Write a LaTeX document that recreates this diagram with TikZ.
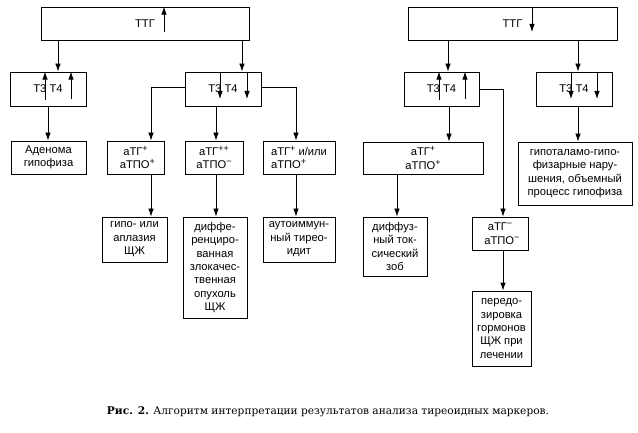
\documentclass[tikz,border=0pt]{standalone}
\usepackage{fontspec}
\setmainfont{Liberation Sans}
\newfontfamily\capfont{DejaVu Serif}
\usetikzlibrary{arrows.meta}
\newcommand{\spx}[1]{\raisebox{0.33em}{\fontsize{9}{9}\selectfont #1}}
\begin{document}
\begin{tikzpicture}[x=1pt,y=-1pt,
  bx/.style={draw, line width=0.8pt, inner sep=0pt, align=center,
    font=\fontsize{11.2}{13.4}\selectfont},
  arr/.style={line width=0.8pt, -{Latex[length=8pt,width=5.5pt]}},
  ln/.style={line width=0.8pt}]
\useasboundingbox (0,0) rectangle (638,433);
% top row
\node[bx, minimum width=208pt, minimum height=33pt] (ttgL) at (145,23.5) {ТТГ};
\node[bx, minimum width=209pt, minimum height=33pt] (ttgR) at (512.5,23.5) {ТТГ};
% T3 T4 row
\node[bx, minimum width=76pt, minimum height=34pt] (t1) at (48,89) {Т3 Т4};
\node[bx, minimum width=76pt, minimum height=34pt] (t2) at (223,89) {Т3 Т4};
\node[bx, minimum width=75pt, minimum height=34pt] (t3) at (441.5,89) {Т3 Т4};
\node[bx, minimum width=76pt, minimum height=34pt] (t4) at (574,89) {Т3 Т4};
% second row
\node[bx, minimum width=75pt, minimum height=33pt] (aden) at (48.5,157.5) {Аденома\\гипофиза};
\node[bx, minimum width=57pt, minimum height=33pt] (b1) at (135.5,157.5) {аТГ\spx{+}\\\,\,аТПО\spx{+}};
\node[bx, minimum width=58pt, minimum height=33pt] (b2) at (214,157.5) {аТГ\spx{++}\\аТПО\spx{−}};
\node[bx, minimum width=72pt, minimum height=33pt, align=left] (b3) at (299,157.5) {аТГ\spx{+} и/или\\аТПО\spx{+}};
\node[bx, minimum width=120pt, minimum height=32pt] (d1) at (423,158) {аТГ\spx{+}\\аТПО\spx{+}};
\node[bx, minimum width=114pt, minimum height=63pt] (d2) at (575,173.5) {гипоталамо-гипо-\\физарные нару-\\шения, объемный\\процесс гипофиза};
% third row
\node[bx, minimum width=65pt, minimum height=45pt] (c1) at (134.5,239.5) {гипо- или\\аплазия\\ЩЖ};
\node[bx, minimum width=64pt, minimum height=101pt] (c2) at (215,267.5) {диффе-\\ренциро-\\ванная\\злокачес-\\твенная\\опухоль\\ЩЖ};
\node[bx, minimum width=72pt, minimum height=45pt] (c3) at (299,239.5) {аутоиммун-\\ный тирео-\\идит};
\node[bx, minimum width=64pt, minimum height=59pt] (e1) at (395,246.5) {диффуз-\\ный ток-\\сический\\зоб};
\node[bx, minimum width=56pt, minimum height=33pt] (e2) at (500,233.5) {аТГ\spx{−}\\\,\,аТПО\spx{−}};
\node[bx, minimum width=59pt, minimum height=75pt] (f1) at (501.5,328.5) {передо-\\зировка\\гормонов\\ЩЖ при\\лечении};
% connectors
\draw[arr] (ttgL.south -| 58,0) -- (t1.north -| 58,0);
\draw[arr] (ttgL.south -| 242,0) -- (t2.north -| 242,0);
\draw[arr] (ttgR.south -| 448,0) -- (t3.north -| 448,0);
\draw[arr] (ttgR.south -| 578,0) -- (t4.north -| 578,0);
\draw[arr] (t1.south -| 48,0) -- (aden.north -| 48,0);
\draw[arr] (t2.west |- 0,87) -| (b1.north -| 151,0);
\draw[arr] (t2.south -| 216,0) -- (b2.north -| 216,0);
\draw[arr] (t2.east |- 0,87) -| (b3.north -| 296,0);
\draw[arr] (b1.south -| 151,0) -- (c1.north -| 151,0);
\draw[arr] (b2.south -| 216,0) -- (c2.north -| 216,0);
\draw[arr] (b3.south -| 296,0) -- (c3.north -| 296,0);
\draw[arr] (t3.south -| 449,0) -- (d1.north -| 449,0);
\draw[arr] (t3.east |- 0,89) -| (e2.north -| 503,0);
\draw[arr] (t4.south -| 578,0) -- (d2.north -| 578,0);
\draw[arr] (d1.south -| 397,0) -- (e1.north -| 397,0);
\draw[arr] (e2.south -| 503,0) -- (f1.north -| 503,0);
% inner arrows
\draw[arr] (164,32) -- (ttgL.north -| 164,0);
\draw[arr] (45,100) -- (t1.north -| 45,0);
\draw[arr] (71,99) -- (t1.north -| 71,0);
\draw[arr] (t2.north -| 220,0) -- (220,99);
\draw[arr] (t2.north -| 247,0) -- (247,99);
\draw[arr] (ttgR.north -| 532,0) -- (532,32);
\draw[arr] (439,100) -- (t3.north -| 439,0);
\draw[arr] (465,99) -- (t3.north -| 465,0);
\draw[arr] (t4.north -| 571,0) -- (571,99);
\draw[arr] (t4.north -| 597,0) -- (597,99);
% caption
\node[font=\capfont\fontsize{10.6}{13}\selectfont] (cap) at (328,412) {\textbf{Рис. 2.} Алгоритм интерпретации результатов анализа тиреоидных маркеров.};
\end{tikzpicture}
\end{document}
